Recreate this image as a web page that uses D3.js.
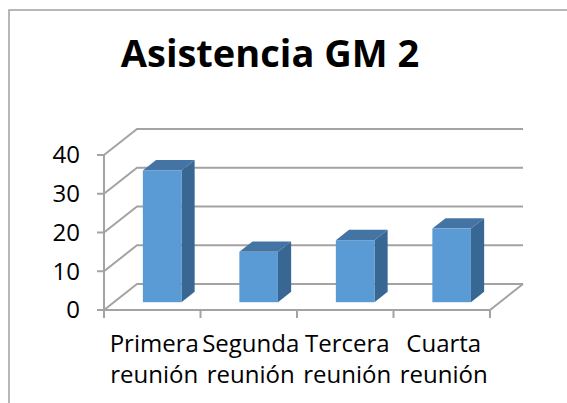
<!DOCTYPE html>
<html lang="es">
<head>
<meta charset="UTF-8">
<title>Asistencia GM 2</title>
<script src="https://d3js.org/d3.v7.min.js"></script>
<style>
  body { margin: 0; background: #fff; }
  text { font-family: "Open Sans", "Noto Sans", sans-serif; fill: #000; }
</style>
</head>
<body>
<svg width="567" height="403"></svg>
<script>
// datos
var categorias = ["Primera reunión", "Segunda reunión", "Tercera reunión", "Cuarta reunión"];
var asistencia = [34, 13, 16, 19];
var ticks = [0, 10, 20, 30, 40];
var titulo = "Asistencia GM 2";

var svg = d3.select("svg");

// profundidad del "3D"
var DX = 33, DY = -26;

var x = d3.scaleBand().domain(categorias).range([104, 490]).paddingInner(0).paddingOuter(0);
var y = d3.scaleLinear().domain([0, 40]).range([310, 155]);

var grid = "#a3a3a3";

// marco (solo arriba y a la izquierda visibles)
svg.append("path")
    .attr("d", "M9,403 V10 H567")
    .attr("fill", "none")
    .attr("stroke", "#a0a0a0")
    .attr("stroke-width", 1.5);

// titulo
svg.append("text")
    .attr("x", 270).attr("y", 67)
    .attr("text-anchor", "middle")
    .attr("font-size", 38).attr("font-weight", "bold")
    .text(titulo);

var g = svg.append("g");
var x0 = x.range()[0], x1 = x.range()[1];

// lineas de la pared del fondo + pared lateral
ticks.forEach(function(t) {
    g.append("path")
        .attr("d", "M" + x0 + "," + y(t) + "L" + (x0 + DX) + "," + (y(t) + DY) + "H" + (x1 + DX))
        .attr("fill", "none").attr("stroke", grid).attr("stroke-width", 2);
});

// piso: borde frontal y derecho
g.append("path")
    .attr("d", "M" + x0 + "," + y(0) + "H" + x1 + "L" + (x1 + DX) + "," + (y(0) + DY))
    .attr("fill", "none").attr("stroke", grid).attr("stroke-width", 2);

// eje y
g.append("line")
    .attr("x1", x0).attr("x2", x0).attr("y1", y(40)).attr("y2", y(0))
    .attr("stroke", grid).attr("stroke-width", 2);
g.selectAll(".ytick").data(ticks).join("line")
    .attr("x1", x0 - 7).attr("x2", x0)
    .attr("y1", d => y(d)).attr("y2", d => y(d))
    .attr("stroke", grid).attr("stroke-width", 2);
svg.selectAll(".ylab").data(ticks).join("text")
    .attr("x", 80).attr("y", d => y(d))
    .attr("dy", "0.35em")
    .attr("text-anchor", "end")
    .attr("font-size", 24)
    .text(d => d);

// eje x: marcas
var bordes = categorias.map(c => x(c)).concat([x1]);
g.selectAll(".xtick").data(bordes).join("line")
    .attr("x1", d => d).attr("x2", d => d)
    .attr("y1", y(0)).attr("y2", y(0) + 8)
    .attr("stroke", grid).attr("stroke-width", 2);

// barras 3D
var bw = x.bandwidth() * 0.4;
var f0 = 0.3, f1 = 0.4; // posicion y grosor en profundidad
var barras = g.selectAll(".bar").data(categorias.map((c, i) => ({ c: c, v: asistencia[i] }))).join("g");

barras.each(function(d) {
    var b = d3.select(this);
    var left = x(d.c) + (x.bandwidth() - bw) / 2 + DX * f0;
    var right = left + bw;
    var top = y(d.v) + DY * f0;
    var bottom = y(0) + DY * f0;
    var ddx = DX * f1, ddy = DY * f1;
    // lado
    b.append("path")
        .attr("d", "M" + right + "," + top + "L" + (right + ddx) + "," + (top + ddy) +
            "L" + (right + ddx) + "," + (bottom + ddy) + "L" + right + "," + bottom + "Z")
        .attr("fill", "#386793");
    // tapa
    b.append("path")
        .attr("d", "M" + left + "," + top + "L" + (left + ddx) + "," + (top + ddy) +
            "L" + (right + ddx) + "," + (top + ddy) + "L" + right + "," + top + "Z")
        .attr("fill", "#4474a3");
    // frente
    b.append("rect")
        .attr("x", left).attr("y", top)
        .attr("width", bw).attr("height", bottom - top)
        .attr("fill", "#5b9bd5");
});

// etiquetas de categoria
categorias.forEach(function(c) {
    var partes = c.split(" ");
    var t = svg.append("text")
        .attr("x", x(c) + x.bandwidth() / 2 + 2)
        .attr("y", 352)
        .attr("text-anchor", "middle")
        .attr("font-size", 24);
    partes.forEach(function(p, i) {
        t.append("tspan")
            .attr("x", x(c) + x.bandwidth() / 2 + 2)
            .attr("dy", i === 0 ? 0 : 31)
            .text(p);
    });
});
</script>
</body>
</html>
